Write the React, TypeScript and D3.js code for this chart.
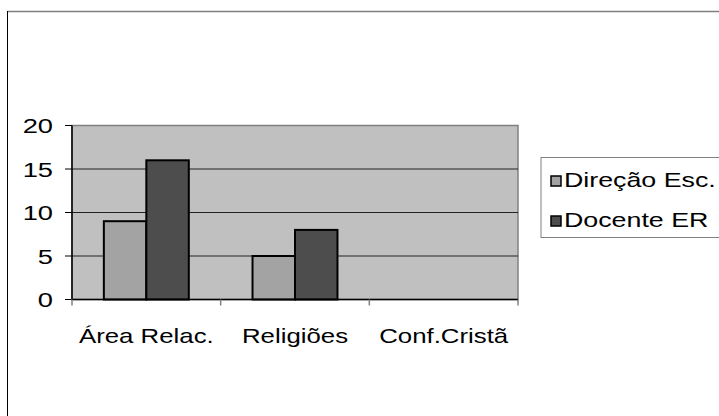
import React from "react";
import * as d3 from "d3";

const categories = ["Área Relac.", "Religiões", "Conf.Cristã"];
const seriesNames = ["Direção Esc.", "Docente ER"];
const direcao = [9, 5, 0];
const docente = [16, 8, 0];
const yTicks = [0, 5, 10, 15, 20];
const colors = ["#a3a3a3", "#4d4d4d"];

const W = 719;
const H = 416;
const plot = { left: 72, right: 518, top: 125.5, bottom: 299.5 };
const FONT = "'Liberation Sans', Arial, sans-serif";

export default function App() {
  const x = d3.scaleBand<string>().domain(categories).range([plot.left, plot.right]).padding(0);
  const y = d3.scaleLinear().domain([0, 20]).range([plot.bottom, plot.top]);
  const bw = x.bandwidth();
  const gapWidth = 1.5;
  const barW = bw / (seriesNames.length + gapWidth);
  const offset = (barW * gapWidth) / 2;
  const series = [direcao, docente];

  const stretchedText = (
    key: string,
    tx: number,
    ty: number,
    text: string,
    anchor: "start" | "middle" | "end",
    size: number,
    sx: number
  ) => (
    <text
      key={key}
      transform={`translate(${tx},${ty}) scale(${sx},1)`}
      textAnchor={anchor}
      fontFamily={FONT}
      fontSize={size}
      fill="#000"
    >
      {text}
    </text>
  );

  return (
    <svg
      width={W}
      height={H}
      style={{ position: "absolute", left: 0, top: 0, background: "#fff" }}
    >
      {/* outer chart border */}
      <line x1={7.5} y1={11.5} x2={W + 5} y2={11.5} stroke="#808080" strokeWidth={1.5} />
      <line x1={7.5} y1={11} x2={7.5} y2={H + 5} stroke="#000" strokeWidth={1} />

      {/* plot area */}
      <rect
        x={plot.left}
        y={plot.top}
        width={plot.right - plot.left}
        height={plot.bottom - plot.top}
        fill="#c0c0c0"
        stroke="#808080"
        strokeWidth={1.5}
      />
      {yTicks
        .filter((t) => t > 0 && t < 20)
        .map((t) => (
          <line
            key={"g" + t}
            x1={plot.left}
            x2={plot.right}
            y1={y(t)}
            y2={y(t)}
            stroke="#222"
            strokeWidth={1}
          />
        ))}

      {/* bars */}
      {categories.map((c, ci) =>
        series.map((s, si) => {
          const v = s[ci];
          if (v <= 0) return null;
          const bx = (x(c) as number) + offset + si * barW;
          return (
            <rect
              key={c + si}
              x={bx}
              y={y(v)}
              width={barW}
              height={y(0) - y(v)}
              fill={colors[si]}
              stroke="#000"
              strokeWidth={2}
            />
          );
        })
      )}

      {/* axes */}
      <line x1={plot.left} x2={plot.left} y1={plot.top} y2={plot.bottom} stroke="#000" strokeWidth={1.5} />
      <line x1={plot.left} x2={plot.right} y1={plot.bottom} y2={plot.bottom} stroke="#000" strokeWidth={1.5} />
      {yTicks.map((t) => (
        <line key={"yt" + t} x1={plot.left - 7} x2={plot.left} y1={y(t)} y2={y(t)} stroke="#000" strokeWidth={1} />
      ))}
      {[...categories.map((c) => x(c) as number), plot.right].map((px, i) => (
        <line key={"xt" + i} x1={px} x2={px} y1={plot.bottom} y2={plot.bottom + 6} stroke="#808080" strokeWidth={1.5} />
      ))}
      {yTicks.map((t) => stretchedText("yl" + t, 53, y(t) + 7.5, String(t), "end", 21, 1.3))}
      {categories.map((c) =>
        stretchedText("xl" + c, (x(c) as number) + bw / 2, 343, c, "middle", 20, 1.29)
      )}

      {/* legend */}
      <rect x={541} y={157.5} width={200} height={80} fill="#fff" stroke="#808080" strokeWidth={1} />
      {seriesNames.map((n, i) => (
        <g key={n}>
          <rect
            x={551}
            y={176 + i * 40}
            width={10}
            height={10}
            fill={colors[i]}
            stroke="#000"
            strokeWidth={1.5}
          />
          {stretchedText("lg" + i, 564, 187 + i * 40, n, "start", 20, 1.34)}
        </g>
      ))}
    </svg>
  );
}
